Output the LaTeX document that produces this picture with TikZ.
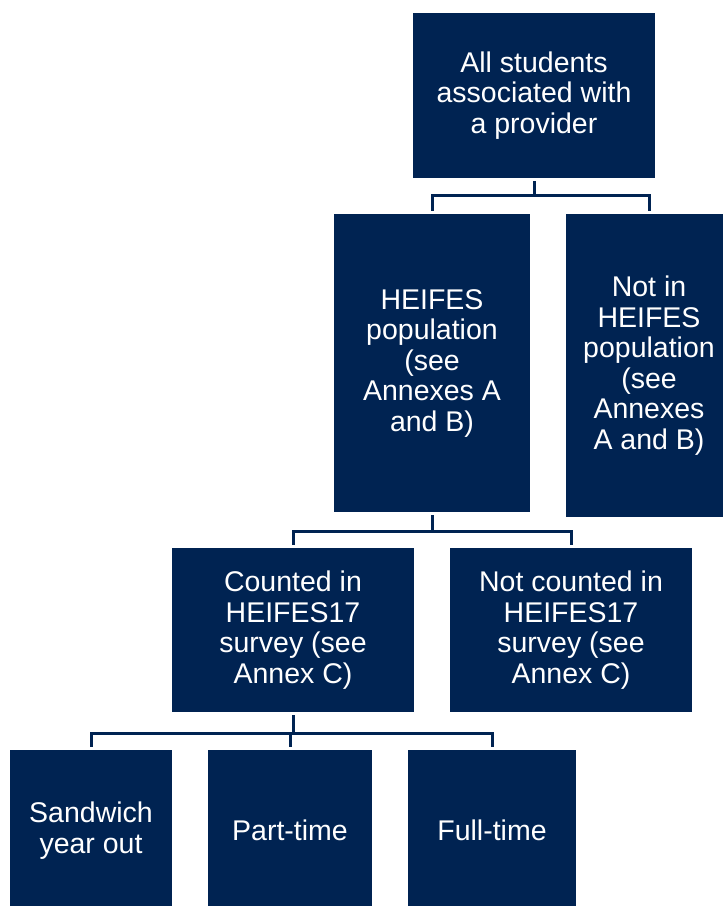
\documentclass[tikz,border=0pt]{standalone}
\usepackage{fontspec}
\setmainfont{Liberation Sans}
\usepackage{tikz}

\definecolor{navy}{RGB}{0,35,82}

\begin{document}
\begin{tikzpicture}[x=1pt,y=-1pt,
    box/.style={fill=navy,text=white,inner sep=0pt,align=center,
      font=\fontsize{28.5}{30.5}\selectfont},
    link/.style={draw=navy,line width=3pt,shorten <=3pt,shorten >=3pt}]
  \useasboundingbox (0,0) rectangle (723,906);

  % top level
  \node[box,minimum width=242pt,minimum height=165pt] (all) at (534,95.5)
    {All students\\associated with\\a provider};

  % second level
  \node[box,minimum width=196pt,minimum height=298pt] (heifes) at (432,363)
    {HEIFES\\population\\(see\\Annexes A\\and B)};
  \node[box,minimum width=166pt,minimum height=303pt] (notin) at (649,365.5)
    {Not in\\HEIFES\\population\\(see\\Annexes\\A and B)};

  % third level
  \node[box,minimum width=242pt,minimum height=164pt] (counted) at (293,630)
    {Counted in\\HEIFES17\\survey (see\\Annex C)};
  \node[box,minimum width=242pt,minimum height=164pt] (notcounted) at (571,630)
    {Not counted in\\HEIFES17\\survey (see\\Annex C)};

  % bottom level
  \node[box,minimum width=162pt,minimum height=161pt] (sandwich) at (91,830.5)
    {Sandwich\\year out};
  \node[box,minimum width=164pt,minimum height=161pt] (parttime) at (290,830.5)
    {Part-time};
  \node[box,minimum width=168pt,minimum height=161pt] (fulltime) at (492,830.5)
    {Full-time};

  % connectors
  \coordinate (joinA) at (534,195);
  \coordinate (joinB) at (432,531);
  \coordinate (joinC) at (293,733);
  \draw[link,shorten >=0pt] (all.south) -- (joinA);
  \draw[link] (heifes.north) |- (joinA) -| (notin.north);
  \draw[link,shorten >=0pt] (heifes.south) -- (joinB);
  \draw[link] (counted.north) |- (joinB) -| (notcounted.north);
  \draw[link,shorten >=0pt] (counted.south) -- (joinC);
  \draw[link] (sandwich.north) |- (joinC) -| (fulltime.north);
  \draw[link,shorten <=0pt] (parttime.north |- joinC) -- (parttime.north);
\end{tikzpicture}
\end{document}
